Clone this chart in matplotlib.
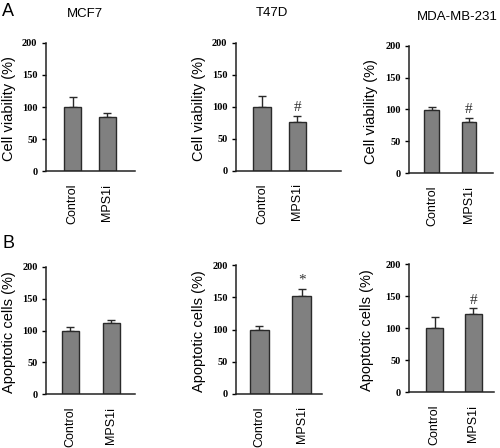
import matplotlib
matplotlib.use("Agg")
import matplotlib.pyplot as plt

categories = ["Control", "MPS1i"]
yticks = [0, 50, 100, 150, 200]

# Panel A: cell viability (%)
via_titles = ["MCF7", "T47D", "MDA-MB-231"]
via_mean = [[100, 85], [100, 76], [99, 80]]
via_err = [[16, 5], [16, 9], [5, 6.5]]
via_mark = [["", ""], ["", "#"], ["", "#"]]

# Panel B: apoptotic cells (%)
apo_mean = [[100, 111], [99, 152], [101, 122]]
apo_err = [[6, 5.5], [6, 11.5], [16, 9]]
apo_mark = [["", ""], ["", "*"], ["", "#"]]

W, H = 500, 448
fig = plt.figure(figsize=(W / 100, H / 100), dpi=100)

# layout in pixels: x0, x1, ytop, ybottom, xlim, bar width, ylabel x
layout_A = [
    (45.7, 135, 43, 171, (-0.766, 1.786), 0.49, 9),
    (235.7, 341, 42.7, 170.7, (-0.74, 2.225), 0.5, 199),
    (409, 492.7, 45.7, 173.3, (-0.617, 1.64), 0.40, 371),
]
layout_B = [
    (46, 135, 266.7, 394.3, (-0.586, 1.57), 0.41, 9),
    (236, 321.7, 265.3, 393.7, (-0.55, 1.47), 0.44, 199),
    (409, 494, 264.3, 392.3, (-0.666, 1.536), 0.43, 367.5),
]

tick_font = dict(family="Liberation Serif", weight="bold", size=7.5)
sans = "Liberation Sans"


def draw(lay, means, errs, marks, ylabel):
    x0, x1, yt, yb, xl, bw, ylx = lay
    ax = fig.add_axes([x0 / W, 1 - yb / H, (x1 - x0) / W, (yb - yt) / H])
    pos = list(range(len(categories)))
    ax.bar(pos, means, width=bw, color="#808080", edgecolor="#2a2a2a",
           linewidth=1.0, zorder=2)
    ax.errorbar(pos, means, yerr=[[0] * len(errs), errs], fmt="none",
                ecolor="#2a2a2a", elinewidth=1.0, capsize=2.8, capthick=1.0,
                zorder=1)
    for p, m, e, s in zip(pos, means, errs, marks):
        if s:
            ax.text(p, m + e + 3, s, ha="center", va="bottom",
                    family="Liberation Serif", fontsize=11, color="#333333")
    ax.set_xlim(*xl)
    ax.set_ylim(0, 200)
    ax.set_yticks(yticks)
    ax.set_yticklabels([str(t) for t in yticks], fontdict=tick_font)
    ax.set_xticks(pos)
    ax.set_xticklabels(categories, rotation=90, family=sans, fontsize=9)
    ax.tick_params(axis="x", length=0, pad=9)
    ax.tick_params(axis="y", length=3, width=1.0, pad=3, direction="out")
    for s in ["top", "right"]:
        ax.spines[s].set_visible(False)
    for s in ["left", "bottom"]:
        ax.spines[s].set_linewidth(1.1)
        ax.spines[s].set_color("#222222")
    fig.text(ylx / W, 1 - ((yt + yb) / 2 + 2) / H, ylabel, rotation=90,
             ha="center", va="center", family=sans, fontsize=10.5)
    return ax


for i in range(3):
    draw(layout_A[i], via_mean[i], via_err[i], via_mark[i], "Cell viability (%)")
    draw(layout_B[i], apo_mean[i], apo_err[i], apo_mark[i], "Apoptotic cells (%)")

title_pos = [(85, 14), (271.7, 13), (457, 17)]
for t, (x, y) in zip(via_titles, title_pos):
    fig.text(x / W, 1 - y / H, t, ha="center", va="center", family=sans, fontsize=9.5)

fig.text(2 / W, 1 - 11 / H, "A", ha="left", va="center", family=sans, fontsize=13)
fig.text(2 / W, 1 - 244 / H, "B", ha="left", va="center", family=sans, fontsize=13)

fig.savefig("out.png", dpi=100)
